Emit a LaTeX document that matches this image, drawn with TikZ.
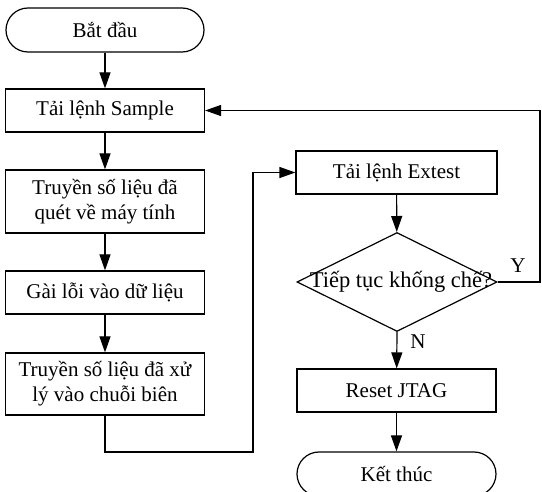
\documentclass[tikz,border=0pt]{standalone}
\usepackage{fontspec}
\setmainfont{Liberation Serif}
\usetikzlibrary{shapes.geometric,arrows.meta}
\begin{document}
\begin{tikzpicture}[x=1pt,y=-1pt,
  every node/.style={font=\fontsize{21}{25}\selectfont},
  box/.style={draw,line width=1.2pt,rectangle,minimum width=199pt,inner sep=0pt,align=center},
  term/.style={draw,line width=1.2pt,rectangle,rounded corners=22pt,minimum width=198pt,minimum height=44pt,inner sep=0pt},
  dia/.style={draw,line width=1.2pt,diamond,minimum width=200pt,minimum height=99pt,inner sep=0pt},
  conn/.style={line width=1.2pt,-{Triangle[length=16pt,width=11pt]}},
  lbl/.style={inner sep=0pt}]
\useasboundingbox (0,0) rectangle (542,492);
\node[term] (start) at (105,30) {Bắt đầu};
\node[box,minimum height=43pt] (sample) at (105,110.5) {Tải lệnh Sample};
\node[box,minimum height=63pt] (t1) at (105,201.5) {Truyền số liệu đã\\quét về máy tính};
\node[box,minimum height=43pt] (fault) at (105,292.5) {Gài lỗi vào dữ liệu};
\node[box,minimum height=62pt] (t2) at (105,384) {Truyền số liệu đã xử\\lý vào chuỗi biên};
\node[box,minimum width=201pt,minimum height=43pt] (extest) at (396.5,172.5) {Tải lệnh Extest};
\node[dia] (dec) at (397,282) {};
\node[lbl,font=\fontsize{22.5}{26}\selectfont] (dectext) at (401,282) {Tiếp tục khống chế?};
\node[box,minimum height=43pt] (reset) at (396.5,390.5) {Reset JTAG};
\node[term,minimum width=199pt] (end) at (396.5,474) {Kết thúc};
\coordinate (lb) at (253,452);
\coordinate (rt) at (540,282);
\node[lbl] (ylbl) at (518,266) {Y};
\node[lbl] (nlbl) at (418,342) {N};
\draw[conn] (start) -- (sample);
\draw[conn] (sample) -- (t1);
\draw[conn] (t1) -- (fault);
\draw[conn] (fault) -- (t2);
\draw[conn] (t2.south) |- (lb) |- (extest.west);
\draw[conn] (extest) -- (dec);
\draw[conn] (dec.east) -- (rt) |- (sample.east);
\draw[conn] (dec.south) -- (reset);
\draw[conn] (reset) -- (end);
\end{tikzpicture}
\end{document}
